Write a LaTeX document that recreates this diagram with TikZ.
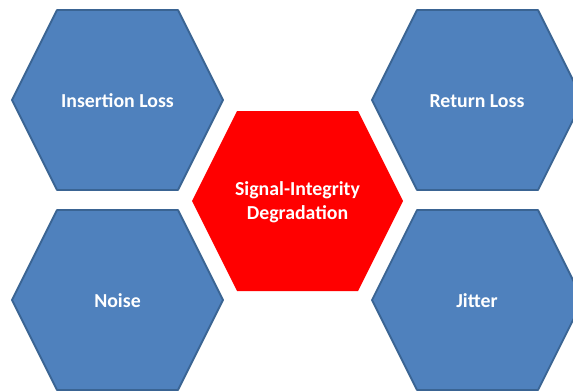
\documentclass[tikz,border=0pt]{standalone}
\usepackage{fontspec}
\setmainfont{Carlito}
\usepackage{tikz}
\usetikzlibrary{positioning}
\definecolor{hexblue}{HTML}{4F81BD}
\definecolor{hexline}{HTML}{3A6493}
\definecolor{hexred}{HTML}{FF0000}

\tikzset{
  pics/hexa/.style={code={
    \path[pic actions] (-105.5,0) -- (-60.5,-90) -- (60.5,-90) -- (105.5,0)
      -- (60.5,90) -- (-60.5,90) -- cycle;
  }},
  bluehex/.style={fill=hexblue, draw=hexline, line width=1.8pt, line join=round},
  redhex/.style={fill=hexred},
  hexlabel/.style={text=white, align=center, font=\bfseries\fontsize{19.8}{23.5}\selectfont},
}

\begin{document}
\begin{tikzpicture}[x=1pt, y=-1pt]
    \useasboundingbox (0,0) rectangle (573,391);
    \clip (0,0) rectangle (573,391);

    % outer hexagons
    \pic[bluehex] at (117.5,100) {hexa};
    \pic[bluehex] at (477.5,100) {hexa};
    \pic[bluehex] at (117.5,300) {hexa};
    \pic[bluehex] at (477.5,300) {hexa};

    % centre hexagon
    \pic[redhex] at (297.5,201) {hexa};

    \node[hexlabel] (insloss) at (117.5,101) {Insertion Loss};
    \node[hexlabel] (retloss) at (477,101) {Return Loss};
    \node[hexlabel] (noise) at (117.5,301) {Noise};
    \node[hexlabel] (jitter) at (477,301) {Jitter};
    \node[hexlabel] (sidegr) at (297.5,202) {Signal-Integrity\\Degradation};
\end{tikzpicture}
\end{document}
